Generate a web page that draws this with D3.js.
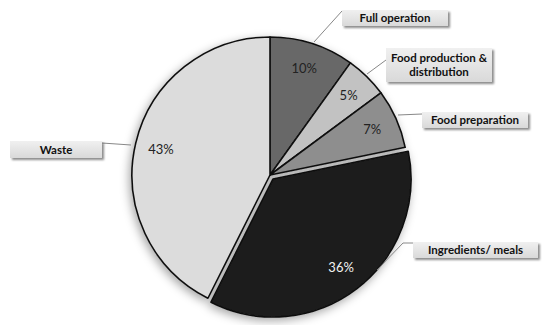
<!DOCTYPE html>
<html>
<head>
<meta charset="utf-8">
<script src="https://cdn.jsdelivr.net/npm/d3@7"></script>
<style>
  body { margin: 0; background: #fff; }
  text { font-family: Lato, "Open Sans", sans-serif; }
  .pct { font-size: 13px; }
  .lab { font-size: 11.5px; font-weight: bold; fill: #111; }
</style>
</head>
<body>
<div id="chart"></div>
<script>
const width = 550, height = 325;

const categories = ["Full operation", "Food production & distribution", "Food preparation", "Ingredients/ meals", "Waste"];
const values = [10, 5, 7, 36, 43];
const colors = ["#686868", "#c2c2c2", "#8e8e8e", "#1c1c1c", "#dcdcdc"];
const pctColors = ["#222", "#222", "#222", "#f2f2f2", "#222"];

// callout boxes: [x, y, w, h], text lines, leader line points
const callouts = [
  {box: [342, 10, 106, 16], lines: ["Full operation"], leader: [[342, 11], [314, 42]]},
  {box: [386, 48, 106, 34], lines: ["Food production &", "distribution"], leader: [[386, 60], [367, 74]]},
  {box: [422, 112, 106, 16], lines: ["Food preparation"], leader: [[422, 114], [398, 115]]},
  {box: [413, 242, 125, 16], lines: ["Ingredients/ meals"], leader: [[413, 243], [403, 243], [377, 270]]},
  {box: [10, 141, 92, 17], lines: ["Waste"], leader: [[102, 143], [131, 145]]}
];

const cx = 270, cy = 175, radius = 138;

const svg = d3.select('#chart').append("svg")
    .attr("width", width)
    .attr("height", height);

const defs = svg.append("defs");
const shadow = defs.append("filter").attr("id", "pieShadow")
    .attr("x", "-20%").attr("y", "-20%").attr("width", "140%").attr("height", "140%");
shadow.append("feDropShadow")
    .attr("dx", -2).attr("dy", 3).attr("stdDeviation", 5)
    .attr("flood-color", "#000").attr("flood-opacity", 0.35);

const boxShadow = defs.append("filter").attr("id", "boxShadow")
    .attr("x", "-20%").attr("y", "-40%").attr("width", "140%").attr("height", "180%");
boxShadow.append("feDropShadow")
    .attr("dx", 2).attr("dy", 2).attr("stdDeviation", 1.2)
    .attr("flood-color", "#000").attr("flood-opacity", 0.45);

const grad = defs.append("linearGradient").attr("id", "boxGrad")
    .attr("x1", 0).attr("y1", 0).attr("x2", 0).attr("y2", 1);
grad.append("stop").attr("offset", "0%").attr("stop-color", "#f0f0f0");
grad.append("stop").attr("offset", "100%").attr("stop-color", "#d9d9d9");

const pie = d3.pie().sort(null).value(d => d);
const arcs = pie(values);
const arc = d3.arc().innerRadius(0).outerRadius(radius);
const labelArc = d3.arc().innerRadius(112).outerRadius(112);

const g = svg.append("g").attr("transform", "translate(" + cx + "," + cy + ")");

// offset for the pulled-out slice
function offset(d, i) {
    if (i !== 3) return [0, 0];
    const a = (d.startAngle + d.endAngle) / 2;
    return [Math.sin(a) * 5, -Math.cos(a) * 5];
}

g.append("g")
    .attr("filter", "url(#pieShadow)")
    .selectAll("path")
    .data(arcs)
    .enter().append("path")
    .attr("d", arc)
    .attr("transform", (d, i) => "translate(" + offset(d, i) + ")")
    .attr("fill", (d, i) => colors[i])
    .attr("stroke", "#111")
    .attr("stroke-width", 1.6)
    .attr("stroke-linejoin", "round");

g.selectAll("text.pct")
    .data(arcs)
    .enter().append("text")
    .attr("class", "pct")
    .attr("transform", (d, i) => {
        const c = labelArc.centroid(d), o = offset(d, i);
        return "translate(" + (c[0] + o[0]) + "," + (c[1] + o[1]) + ")";
    })
    .attr("text-anchor", "middle")
    .attr("dy", "0.35em")
    .attr("fill", (d, i) => pctColors[i])
    .text(d => d.data + "%");

// callouts
const line = d3.line();
const co = svg.append("g").selectAll("g")
    .data(callouts)
    .enter().append("g");

co.append("path")
    .attr("d", d => line(d.leader))
    .attr("fill", "none")
    .attr("stroke", "#888")
    .attr("stroke-width", 1);

co.append("rect")
    .attr("x", d => d.box[0]).attr("y", d => d.box[1])
    .attr("width", d => d.box[2]).attr("height", d => d.box[3])
    .attr("fill", "url(#boxGrad)")
    .attr("filter", "url(#boxShadow)");

co.each(function(d) {
    const t = d3.select(this).append("text")
        .attr("class", "lab")
        .attr("text-anchor", "middle");
    const n = d.lines.length;
    d.lines.forEach((s, j) => {
        t.append("tspan")
            .attr("x", d.box[0] + d.box[2] / 2)
            .attr("y", d.box[1] + d.box[3] / 2 + (j - (n - 1) / 2) * 14)
            .attr("dy", "0.35em")
            .text(s);
    });
});
</script>
</body>
</html>
